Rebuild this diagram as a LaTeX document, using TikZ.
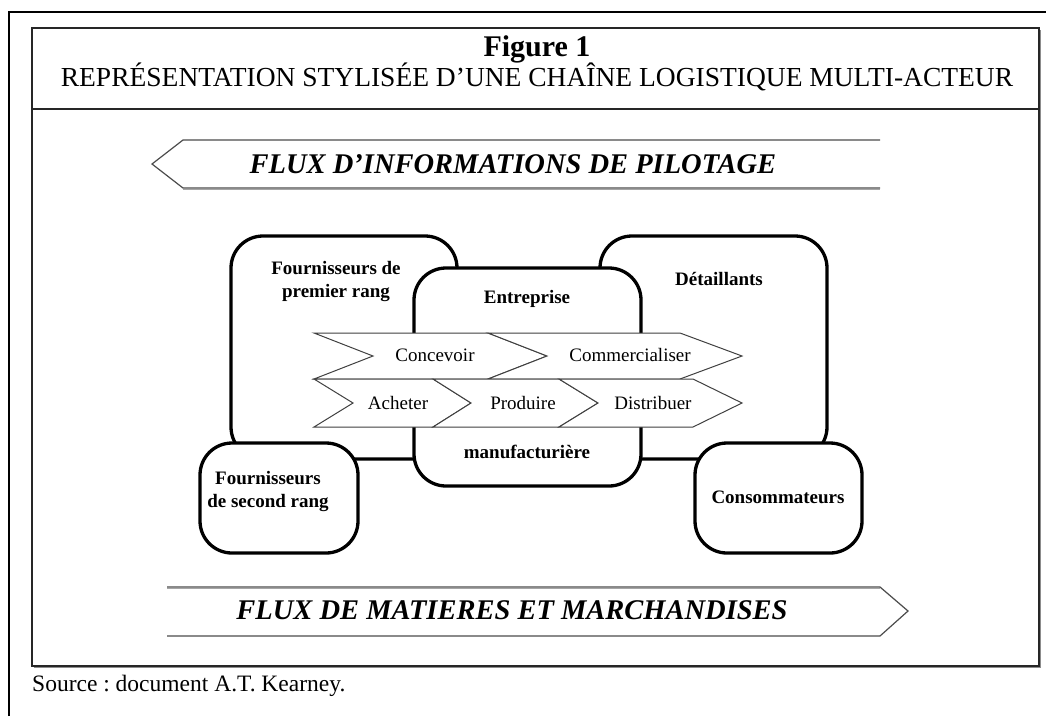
\documentclass[tikz,border=0pt]{standalone}
\usepackage{fontspec}
\setmainfont{Liberation Serif}
\frenchspacing
\begin{document}
\begin{tikzpicture}[x=1pt,y=-1pt,
  actor/.style={draw=black,line width=3.3pt,rounded corners=32pt,fill=white},
  chev/.style={draw=black!75,line width=1pt,fill=white,line join=miter},
  flow/.style={draw=black!70,line width=1.2pt,fill=white},
  lab/.style={font=\bfseries\fontsize{19}{23}\selectfont,align=center,inner sep=0pt},
  task/.style={font=\fontsize{19}{22}\selectfont,inner sep=0pt},
  flowtxt/.style={font=\bfseries\itshape\fontsize{28.5}{32}\selectfont,inner sep=0pt}]
\useasboundingbox (0,0) rectangle (1046,716);

% page frame and figure frame
\draw[line width=1.2pt] (9,716) -- (9,12) -- (1046,12);
\draw[line width=1.4pt,black!45] (33.5,667.5) -- (1040.5,667.5) -- (1040.5,29.5);
\draw[line width=1.4pt,black!85] (32,28) rectangle (1039,666);
\draw[line width=1.4pt,black!85] (32,109) -- (1039,109);
\node[font=\bfseries\fontsize{30}{33}\selectfont,inner sep=0pt] (fig) at (537,49) {Figure 1};
\node[font=\fontsize{27.5}{30}\selectfont,inner sep=0pt] (title) at (537,77)
  {REPRÉSENTATION STYLISÉE D’UNE CHAÎNE LOGISTIQUE MULTI-ACTEUR};

% information flow (right to left)
\draw[flow] (880,140) -- (183,140) -- (152,164) -- (183,188) -- (880,188);
\draw[black!35,line width=1pt] (183,189.5) -- (880,189.5);
\node[flowtxt] (info) at (513,164) {FLUX D’INFORMATIONS DE PILOTAGE};

% material flow (left to right)
\draw[flow] (167,587) -- (880,587) -- (908,611) -- (880,636) -- (167,636);
\draw[black!35,line width=1pt] (167,588.5) -- (880,588.5);
\node[flowtxt] (mat) at (512,610) {FLUX DE MATIERES ET MARCHANDISES};

% actors
\draw[actor] (231,236) rectangle (457,459);
\draw[actor] (600,236) rectangle (827,459);
\draw[actor] (414,268) rectangle (641,486);
\draw[actor] (200,443) rectangle (358,553);
\draw[actor] (695,443) rectangle (862,553);

\node[lab] (f1) at (336,281) {Fournisseurs de\\premier rang};
\node[lab] (det) at (719,279) {Détaillants};
\node[lab] (ent) at (527,299) {Entreprise};
\node[lab] (manu) at (527,452) {manufacturière};
\node[lab] (f2) at (268,491) {Fournisseurs\\de second rang};
\node[lab] (cons) at (778,497) {Consommateurs};

% value chain, upper row
\draw[chev] (314,333) -- (488,333) -- (547,356) -- (488,379) -- (314,379) -- (373,356) -- cycle;
\draw[chev] (488,333) -- (680,333) -- (742,356) -- (680,379) -- (488,379) -- (547,356) -- cycle;
% value chain, lower row
\draw[chev] (314,379) -- (433,379) -- (471,403) -- (433,427) -- (314,427) -- (353,403) -- cycle;
\draw[chev] (433,379) -- (559,379) -- (598,403) -- (559,427) -- (433,427) -- (471,403) -- cycle;
\draw[chev] (559,379) -- (693,379) -- (742,403) -- (693,427) -- (559,427) -- (598,403) -- cycle;

\node[task] (conc) at (435,355) {Concevoir};
\node[task] (comm) at (630,355) {Commercialiser};
\node[task] (ach) at (398,403) {Acheter};
\node[task] (prod) at (523,403) {Produire};
\node[task] (dist) at (653,403) {Distribuer};

\node[font=\fontsize{23.5}{27}\selectfont,anchor=west,inner sep=0pt] (src) at (32,686)
  {Source : document A.T. Kearney.};
\end{tikzpicture}
\end{document}
